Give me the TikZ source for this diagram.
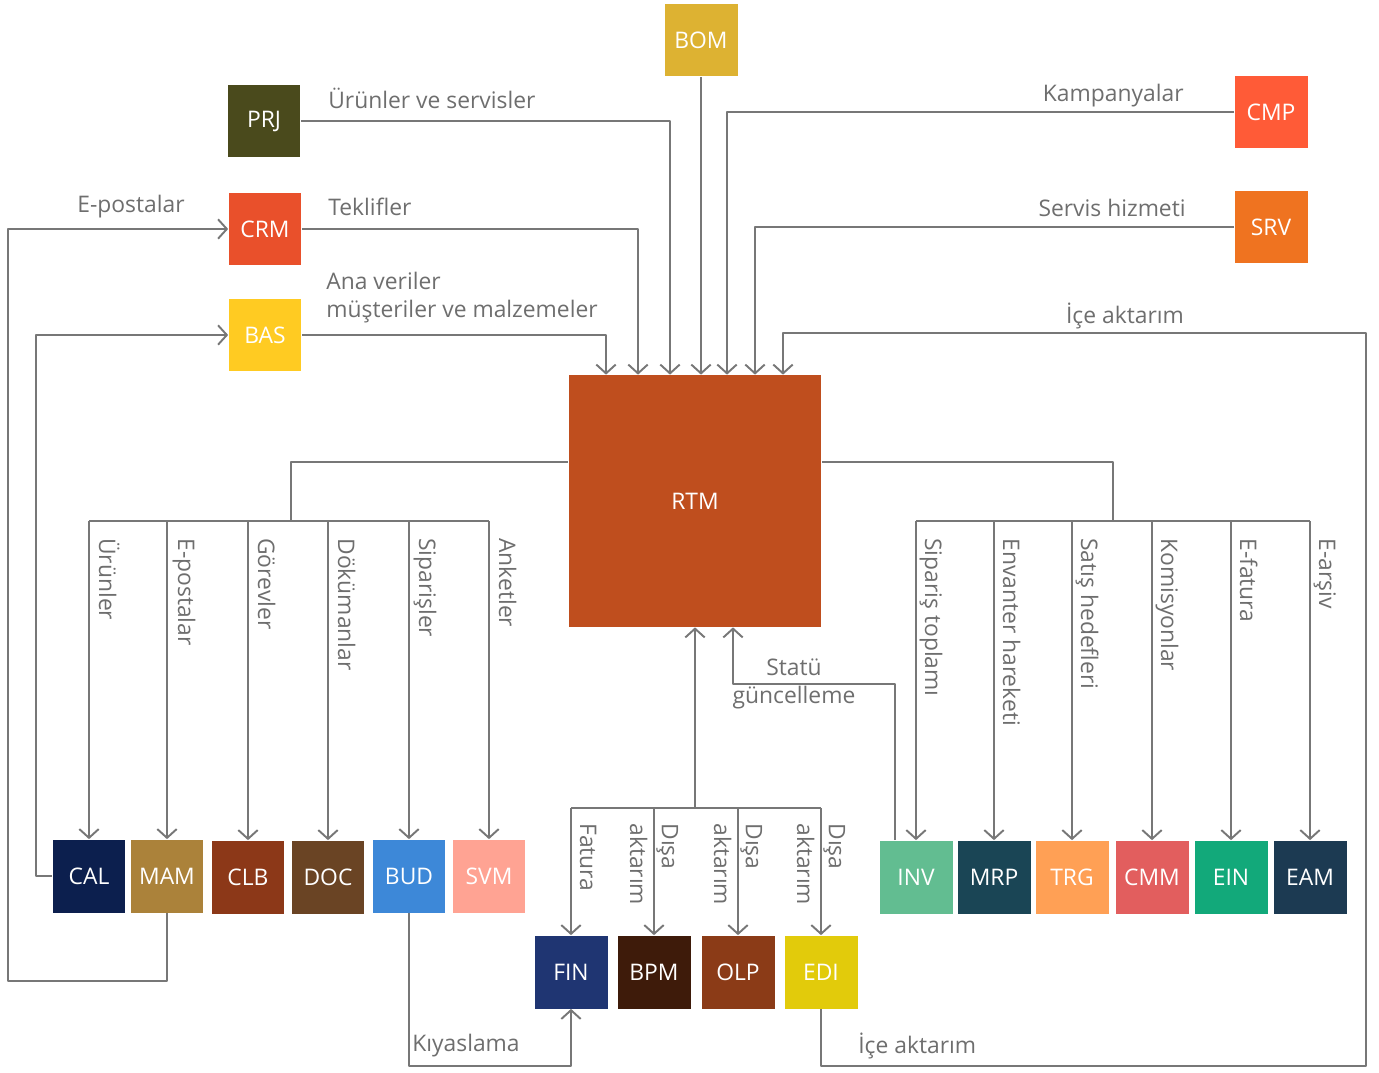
\documentclass[tikz,border=0pt]{standalone}
\usepackage{fontspec}
\setmainfont{Open Sans}
\usetikzlibrary{arrows.meta,calc}

\definecolor{linegray}{HTML}{777777}
\definecolor{txtgray}{HTML}{6E6E6E}
\definecolor{cBOM}{HTML}{DDB232}
\definecolor{cPRJ}{HTML}{4A4A1C}
\definecolor{cCRM}{HTML}{E9502B}
\definecolor{cBAS}{HTML}{FFCB22}
\definecolor{cCMP}{HTML}{FF5B37}
\definecolor{cSRV}{HTML}{EF7320}
\definecolor{cRTM}{HTML}{BF4E1E}
\definecolor{cCAL}{HTML}{0C1F4E}
\definecolor{cMAM}{HTML}{AB823A}
\definecolor{cCLB}{HTML}{8C3818}
\definecolor{cDOC}{HTML}{6A4424}
\definecolor{cBUD}{HTML}{3D88D8}
\definecolor{cSVM}{HTML}{FFA393}
\definecolor{cINV}{HTML}{62BD91}
\definecolor{cMRP}{HTML}{1A4555}
\definecolor{cTRG}{HTML}{FFA055}
\definecolor{cCMM}{HTML}{E25E5E}
\definecolor{cEIN}{HTML}{12A97A}
\definecolor{cEAM}{HTML}{1C3A52}
\definecolor{cFIN}{HTML}{1F3572}
\definecolor{cBPM}{HTML}{3E1B0A}
\definecolor{cOLP}{HTML}{8B3B17}
\definecolor{cEDI}{HTML}{E2CB0B}

\begin{document}
\begin{tikzpicture}[x=0.02cm, y=-0.02cm, line join=round, >={Straight Barb[length=5pt,width=11pt]},
	box/.style={minimum width=1.46cm, minimum height=1.46cm, inner sep=0pt, text=white, font=\fontsize{13}{15}\selectfont},
	flow/.style={draw=linegray, line width=1.1pt},
	lbl/.style={text=txtgray, inner sep=0pt, font=\fontsize{13}{16}\selectfont},
	vlbl/.style={lbl, rotate=-90, anchor=base west}]
	
	\useasboundingbox (0,0) rectangle (1379,1072);
	%\draw[gray!20] (0,0) grid (1379,1072);
	
	\node[box, fill=cRTM, minimum width=5.06cm, minimum height=5.04cm] (RTM) at (695,501) {RTM};
	
	\node[box, fill=cBOM] (BOM) at (701,40) {BOM};
	\node[box, fill=cPRJ] (PRJ) at (264,121) {PRJ};
	\node[box, fill=cCRM] (CRM) at (265,229) {CRM};
	\node[box, fill=cBAS] (BAS) at (265,335) {BAS};
	\node[box, fill=cCMP] (CMP) at (1271,112) {CMP};
	\node[box, fill=cSRV] (SRV) at (1271,227) {SRV};
	
	\node[box, fill=cCAL] (CAL) at (89,876) {CAL};
	\node[box, fill=cMAM] (MAM) at (167,876) {MAM};
	\node[box, fill=cCLB] (CLB) at (248,877) {CLB};
	\node[box, fill=cDOC] (DOC) at (328,877) {DOC};
	\node[box, fill=cBUD] (BUD) at (409,876) {BUD};
	\node[box, fill=cSVM] (SVM) at (489,876) {SVM};
	
	\node[box, fill=cINV] (INV) at (916,877) {INV};
	\node[box, fill=cMRP] (MRP) at (994,877) {MRP};
	\node[box, fill=cTRG] (TRG) at (1072,877) {TRG};
	\node[box, fill=cCMM] (CMM) at (1152,877) {CMM};
	\node[box, fill=cEIN] (EIN) at (1231,877) {EIN};
	\node[box, fill=cEAM] (EAM) at (1310,877) {EAM};
	
	\node[box, fill=cFIN] (FIN) at (571,972) {FIN};
	\node[box, fill=cBPM] (BPM) at (654,972) {BPM};
	\node[box, fill=cOLP] (OLP) at (738,972) {OLP};
	\node[box, fill=cEDI] (EDI) at (821,972) {EDI};
	
	\coordinate (lbus) at (291,521);
	\coordinate (rbus) at (1113,521);
	\coordinate (fbus) at (693,808);
	
	% into RTM
	\draw[flow,->] (BAS.east) -| ($(RTM.north)+(-89,0)$);
	\draw[flow,->] (CRM.east) -| ($(RTM.north)+(-57,0)$);
	\draw[flow,->] (PRJ.east) -| ($(RTM.north)+(-25,0)$);
	\draw[flow,->] (BOM.south) -- (BOM.south |- RTM.north);
	\draw[flow,->] (CMP.west) -| ($(RTM.north)+(32,0)$);
	\draw[flow,->] (SRV.west) -| ($(RTM.north)+(60,0)$);
	\draw[flow,->] (EDI.south) -- ++(0,57) -- ++(545,0) |- ($(RTM.north)+(88,-42)$) -- ($(RTM.north)+(88,0)$);
	\draw[flow,->] ($(INV.north west)+(16,0)$) |- ($(RTM.south)+(38,57)$) -- ($(RTM.south)+(38,0)$);
	\draw[flow,->] (RTM.south |- fbus) -- (RTM.south);
	
	% back loops
	\draw[flow,->] (MAM.south) -- ++(0,68) -- ++(-159,0) |- (CRM.west);
	\draw[flow,->] (CAL.west) -- ++(-16,0) |- (BAS.west);
	\draw[flow,->] (BUD.south) -- ++(0,153) -| (FIN.south);
	
	% left bus
	\draw[flow] ($(RTM.west)+(0,-39)$) -| (lbus);
	\draw[flow] (CAL.north |- lbus) -- (SVM.north |- lbus);
	\draw[flow,->] (CAL.north |- lbus) -- (CAL.north);
	\draw[flow,->] (MAM.north |- lbus) -- (MAM.north);
	\draw[flow,->] (CLB.north |- lbus) -- (CLB.north);
	\draw[flow,->] (DOC.north |- lbus) -- (DOC.north);
	\draw[flow,->] (BUD.north |- lbus) -- (BUD.north);
	\draw[flow,->] (SVM.north |- lbus) -- (SVM.north);
	
	% right bus
	\draw[flow] ($(RTM.east)+(0,-39)$) -| (rbus);
	\draw[flow] (INV.north |- rbus) -- (EAM.north |- rbus);
	\draw[flow,->] (INV.north |- rbus) -- (INV.north);
	\draw[flow,->] (MRP.north |- rbus) -- (MRP.north);
	\draw[flow,->] (TRG.north |- rbus) -- (TRG.north);
	\draw[flow,->] (CMM.north |- rbus) -- (CMM.north);
	\draw[flow,->] (EIN.north |- rbus) -- (EIN.north);
	\draw[flow,->] (EAM.north |- rbus) -- (EAM.north);
	
	% bottom bus
	\draw[flow] (FIN.north |- fbus) -- (EDI.north |- fbus);
	\draw[flow,->] (FIN.north |- fbus) -- (FIN.north);
	\draw[flow,->] (BPM.north |- fbus) -- (BPM.north);
	\draw[flow,->] (OLP.north |- fbus) -- (OLP.north);
	\draw[flow,->] (EDI.north |- fbus) -- (EDI.north);
	
	\node[lbl, anchor=west] (tPRJ) at (328,98) {Ürünler ve servisler};
	\node[lbl, anchor=west] (tCRM) at (328,207) {Teklifler};
	\node[lbl, anchor=west, align=left, font=\fontsize{13}{16}\selectfont] (tBAS) at (326,298) {Ana veriler\\müşteriler ve malzemeler};
	\node[lbl, anchor=east] (tMAM) at (185,207) {E-postalar};
	\node[lbl, anchor=east] (tCMP) at (1184,96) {Kampanyalar};
	\node[lbl, anchor=east] (tSRV) at (1186,208) {Servis hizmeti};
	\node[lbl] (tEDI1) at (1125,316) {İçe aktarım};
	\node[lbl, anchor=west] (tEDI2) at (858,1046) {İçe aktarım};
	\node[lbl, anchor=west] (tBUD) at (412,1046) {Kıyaslama};
	\node[lbl, align=center] (tINV) at (794,684) {Statü\\güncelleme};
	
	\node[vlbl] (tCAL) at (99,538) {Ürünler};
	\node[vlbl] (tMAM2) at (178,538) {E-postalar};
	\node[vlbl] (tCLB) at (258,538) {Görevler};
	\node[vlbl] (tDOC) at (338,538) {Dökümanlar};
	\node[vlbl] (tBUD2) at (419,538) {Siparişler};
	\node[vlbl] (tSVM) at (499,538) {Anketler};
	
	\node[vlbl] (tINV2) at (925,538) {Sipariş toplamı};
	\node[vlbl] (tMRP) at (1003,538) {Envanter hareketi};
	\node[vlbl] (tTRG) at (1081,538) {Satış hedefleri};
	\node[vlbl] (tCMM) at (1161,538) {Komisyonlar};
	\node[vlbl] (tEIN) at (1240,538) {E-fatura};
	\node[vlbl] (tEAM) at (1319,538) {E-arşiv};
	
	\node[vlbl] (tFIN) at (580,823) {Fatura};
	\node[lbl, rotate=-90, anchor=west, align=left, font=\fontsize{13}{18}\selectfont] (tBPM) at (654,823) {Dışa\\aktarım};
	\node[lbl, rotate=-90, anchor=west, align=left, font=\fontsize{13}{18}\selectfont] (tOLP) at (738,823) {Dışa\\aktarım};
	\node[lbl, rotate=-90, anchor=west, align=left, font=\fontsize{13}{18}\selectfont] (tEDI) at (821,823) {Dışa\\aktarım};
\end{tikzpicture}
\end{document}
